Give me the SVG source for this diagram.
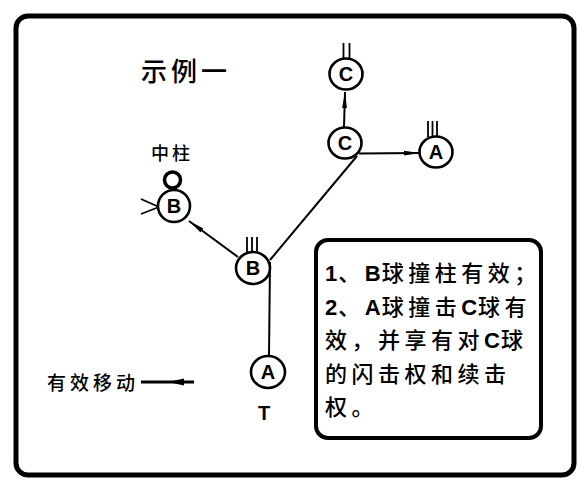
<svg xmlns="http://www.w3.org/2000/svg" width="584" height="487" viewBox="0 0 584 487">
<style>
.frame{fill:none;stroke:#000;stroke-width:5}
.box{fill:#fff;stroke:#000;stroke-width:4}
.ball{fill:#fff;stroke:#000;stroke-width:2.6}
.lbl{font-family:"Liberation Sans","Noto Sans CJK SC",sans-serif;font-weight:bold;font-size:20px;text-anchor:middle;fill:#000}
.cjk{font-family:"Noto Sans CJK SC","Liberation Sans",sans-serif;fill:#000}
.asc{font-family:"Liberation Sans",sans-serif;font-weight:bold;letter-spacing:1px}
.con{fill:none;stroke:#000;stroke-width:2}
.tick{stroke:#000;stroke-width:1.8}
</style>
<defs>
<marker id="arr" viewBox="0 0 16 6" refX="16" refY="3" markerWidth="16" markerHeight="6" markerUnits="userSpaceOnUse" orient="auto">
<path d="M0,0.6 L16,3 L0,5.4 z" fill="#000"/>
</marker>
</defs>
<rect width="584" height="487" fill="#fff"/>
<rect class="frame" x="16" y="16" width="558" height="459" rx="12"/>
<text class="cjk" x="141" y="81" font-size="26" font-weight="500" letter-spacing="4">示例一</text>
<text class="cjk" x="151" y="160" font-size="18" font-weight="500" letter-spacing="3">中柱</text>
<g id="connectors">
<line class="con" x1="269" y1="356" x2="270" y2="262"/>
<line class="con" x1="270" y1="260" x2="357" y2="156"/>
<line class="con" x1="238" y1="257" x2="189" y2="221" marker-end="url(#arr)"/>
<line class="con" x1="344" y1="127" x2="345" y2="92" marker-end="url(#arr)"/>
<line class="con" x1="359" y1="153.5" x2="420" y2="153" marker-end="url(#arr)"/>
</g>
<g id="ballCtop">
<line class="tick" x1="343.5" y1="43" x2="343.5" y2="58"/>
<line class="tick" x1="349.5" y1="43" x2="349.5" y2="58"/>
<ellipse class="ball" cx="346" cy="74" rx="16.5" ry="15.5"/>
<text class="lbl" x="346" y="81">C</text>
</g>
<g id="ballC">
<ellipse class="ball" cx="345" cy="143" rx="16.5" ry="15.5"/>
<text class="lbl" x="345" y="150">C</text>
</g>
<g id="ballAright">
<line class="tick" x1="428" y1="121" x2="428" y2="137"/>
<line class="tick" x1="432.5" y1="121" x2="432.5" y2="137"/>
<line class="tick" x1="437" y1="121" x2="437" y2="137"/>
<ellipse class="ball" cx="436" cy="152" rx="16.5" ry="15.5"/>
<text class="lbl" x="436" y="159">A</text>
</g>
<g id="pin">
<circle cx="172.5" cy="180" r="8" fill="#fff" stroke="#000" stroke-width="3.5"/>
</g>
<g id="ballBleft">
<line class="tick" x1="141" y1="199" x2="159" y2="207"/>
<line class="tick" x1="141" y1="214" x2="159" y2="207"/>
<ellipse class="ball" cx="174" cy="206" rx="16" ry="16"/>
<text class="lbl" x="174" y="213">B</text>
</g>
<g id="ballB">
<line class="tick" x1="247" y1="237" x2="247" y2="253"/>
<line class="tick" x1="252" y1="237" x2="252" y2="253"/>
<line class="tick" x1="257" y1="237" x2="257" y2="253"/>
<ellipse class="ball" cx="253" cy="268" rx="17" ry="16"/>
<text class="lbl" x="253" y="275">B</text>
</g>
<g id="ballA">
<ellipse class="ball" cx="268" cy="372" rx="17" ry="16"/>
<text class="lbl" x="268" y="379">A</text>
<text class="lbl" x="264" y="420">T</text>
</g>
<g id="legend">
<text class="cjk" x="47" y="390" font-size="19" font-weight="500" letter-spacing="4">有效移动</text>
<line x1="141" y1="382" x2="194" y2="382" stroke="#000" stroke-width="3"/>
<polygon points="168,382 184,378.5 184,385.5" fill="#000"/>
</g>
<g id="note">
<rect class="box" x="316" y="240" width="225" height="198" rx="12"/>
<text class="cjk" font-size="22" font-weight="500" letter-spacing="4.5">
<tspan x="325" y="281"><tspan class="asc">1</tspan>、<tspan class="asc">B</tspan>球撞柱有效；</tspan>
<tspan x="325" y="314.5"><tspan class="asc">2</tspan>、<tspan class="asc">A</tspan>球撞击<tspan class="asc">C</tspan>球有</tspan>
<tspan x="325" y="348">效，并享有对<tspan class="asc">C</tspan>球</tspan>
<tspan x="325" y="381.5">的闪击权和续击</tspan>
<tspan x="325" y="415">权。</tspan>
</text>
</g>
</svg>
